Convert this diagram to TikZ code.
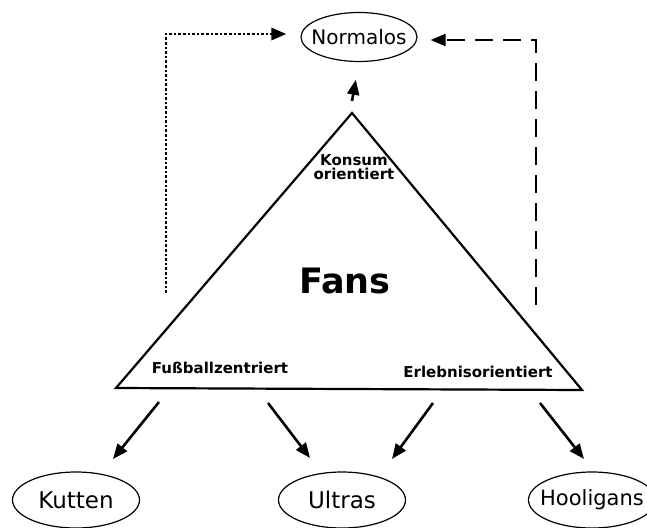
\documentclass[tikz,border=0pt]{standalone}
\usepackage{fontspec}
\setmainfont{DejaVu Sans}
\usetikzlibrary{positioning,shapes.geometric,arrows.meta}

\begin{document}
\begin{tikzpicture}[x=1pt,y=-1pt,
	typ/.style={ellipse,draw,line width=1.2pt,inner sep=-20pt,minimum width=127pt,minimum height=56pt,font=\fontsize{23}{23}\selectfont},
	lab/.style={font=\bfseries\fontsize{15}{14}\selectfont,align=center},
	tip/.style={-{Triangle[length=15pt,width=12pt]}},
	arr/.style={line width=2.6pt,tip},
	dotline/.style={line width=2.8pt,dash pattern=on 2.6pt off 2pt,tip},
	dashline/.style={line width=2.2pt,dash pattern=on 18pt off 10pt,tip}]
	\useasboundingbox (0,0) rectangle (647,527);
	% types of spectators
	\node[typ,minimum width=116pt,minimum height=49pt,font=\fontsize{20}{20}\selectfont] (normalos) at (359,37) {Normalos};
	\node[typ] (kutten) at (76,500) {Kutten};
	\node[typ] (ultras) at (342,500) {Ultras};
	\node[typ,font=\fontsize{21}{21}\selectfont] (hooligans) at (592,500) {Hooligans};
	% triangle
	\coordinate (apex) at (352,113);
	\coordinate (lcorner) at (116,388);
	\coordinate (rcorner) at (582,390);
	\draw[line width=2.2pt,line join=miter] (apex) -- (lcorner) -- (rcorner) -- cycle;
	\node[lab] (konsum) at (354,167) {Konsum\\orientiert};
	\node[font=\bfseries\fontsize{35}{35}\selectfont] (fans) at (345,281) {Fans};
	\node[lab] (fussball) at (220,368) {Fußballzentriert};
	\node[lab] (erlebnis) at (478,372) {Erlebnisorientiert};
	% arrows to Normalos
	\coordinate (upfoot) at (352,101);
	\draw[arr,shorten >=18pt] (upfoot) -- (normalos.south);
	\coordinate (dotfoot) at (166,293);
	\draw[dotline,shorten >=14pt] (dotfoot) |- ([yshift=3pt]normalos.west);
	\coordinate (dashfoot) at (536,305);
	\draw[dashline,shorten >=13pt] (dashfoot) |- ([yshift=-3pt]normalos.east);
	% arrows to the bottom
	\coordinate (k1) at (159,402);
	\coordinate (k2) at (113,459);
	\coordinate (u1) at (268,403);
	\coordinate (u2) at (310,458);
	\coordinate (u3) at (433,403);
	\coordinate (u4) at (392,459);
	\coordinate (h1) at (540,403);
	\coordinate (h2) at (584,459);
	\draw[arr] (k1) -- (k2);
	\draw[arr] (u1) -- (u2);
	\draw[arr] (u3) -- (u4);
	\draw[arr] (h1) -- (h2);
\end{tikzpicture}
\end{document}
